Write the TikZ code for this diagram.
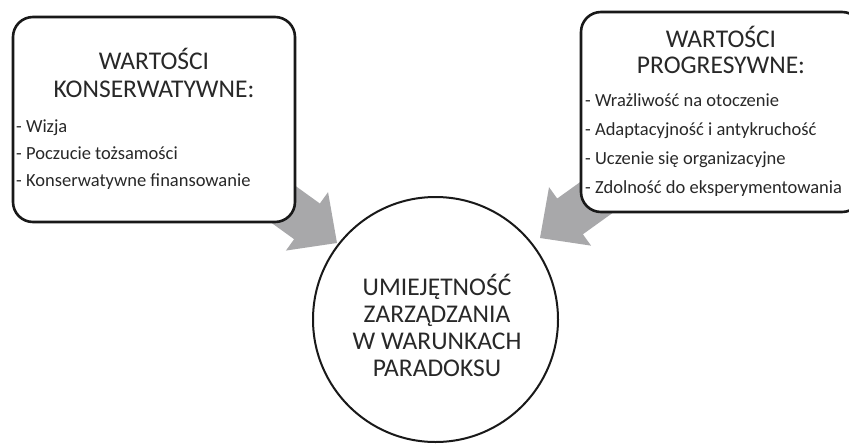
\documentclass[tikz,border=0pt]{standalone}
\usepackage{fontspec}
\setmainfont{Carlito}
\definecolor{arrowgray}{RGB}{168,168,170}
\definecolor{txt}{RGB}{40,40,40}
\tikzset{
  box/.style={draw=black!90, line width=2.6pt, rounded corners=20pt, fill=white},
  ring/.style={draw=black!90, line width=2pt, fill=white},
  title/.style={anchor=base, inner sep=0pt, text=txt, font=\fontsize{25.5}{25.5}\selectfont},
  item/.style={anchor=base west, inner sep=0pt, text=txt, font=\fontsize{18.5}{18.5}\selectfont},
  blockarrow/.style={fill=arrowgray, draw=none}
}
\begin{document}
\begin{tikzpicture}[x=1pt,y=1pt]
\clip (0,0) rectangle (849,-447);
\fill[white] (0,0) rectangle (849,-447);
% block arrows (behind boxes)
\begin{scope}[shift={(337,-243)}, rotate=-35.8]
  \fill[blockarrow] (0,0) -- (-37,36) -- (-37,22) -- (-110,22) -- (-110,-22) -- (-37,-22) -- (-37,-36) -- cycle;
\end{scope}
\begin{scope}[shift={(540,-238)}, rotate=215.7]
  \fill[blockarrow] (0,0) -- (-37,36) -- (-37,22) -- (-110,22) -- (-110,-22) -- (-37,-22) -- (-37,-36) -- cycle;
\end{scope}
% boxes
\draw[box] (13,-17) rectangle (295,-222);
\draw[box] (581,-12) rectangle (862,-212);
% circle
\draw[ring] (435.5,-319.5) circle (122.5);
% left box text
\node[title] (lt1) at (154,-69) {WARTOŚCI};
\node[title] (lt2) at (154,-97) {KONSERWATYWNE:};
\node[item] (l1) at (16,-132) {- Wizja};
\node[item] (l2) at (16,-159) {- Poczucie tożsamości};
\node[item] (l3) at (16,-186) {- Konserwatywne finansowanie};
% right box text
\node[title] (rt1) at (721,-47) {WARTOŚCI};
\node[title] (rt2) at (721,-73) {PROGRESYWNE:};
\node[item] (r1) at (585,-106) {- Wrażliwość na otoczenie};
\node[item] (r2) at (585,-135) {- Adaptacyjność i antykruchość};
\node[item] (r3) at (585,-164) {- Uczenie się organizacyjne};
\node[item] (r4) at (585,-193) {- Zdolność do eksperymentowania};
% circle text
\node[title] (c1) at (437,-295) {UMIEJĘTNOŚĆ};
\node[title] (c2) at (437,-322) {ZARZĄDZANIA};
\node[title] (c3) at (437,-349) {W WARUNKACH};
\node[title] (c4) at (437,-376) {PARADOKSU};
\end{tikzpicture}
\end{document}
